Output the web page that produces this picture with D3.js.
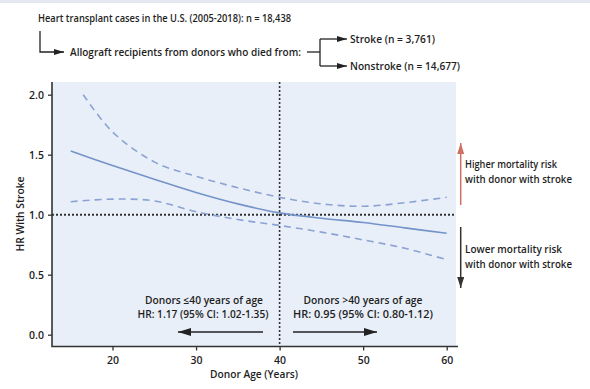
<!DOCTYPE html>
<html>
<head>
<meta charset="utf-8">
<script src="https://cdn.jsdelivr.net/npm/d3@7"></script>
<style>
  body { margin: 0; background: #fff; }
  svg { display: block; font-family: "Open Sans", "Noto Sans", sans-serif; }
  .lbl { font-size: 10.5px; font-weight: 600; fill: #1e1e1e; }
</style>
</head>
<body>
<svg id="chart" width="590" height="389"></svg>
<script>
// data
const ages = [15, 20, 25, 30, 35, 40, 45, 50, 55, 60];
const hr = [1.53, 1.41, 1.295, 1.185, 1.09, 1.015, 0.97, 0.935, 0.89, 0.845];
const upperAges = [16.5, 20, 25, 30, 35, 40, 45, 50, 55, 60];
const upperCI = [2.0, 1.69, 1.44, 1.32, 1.225, 1.145, 1.09, 1.07, 1.10, 1.145];
const lowerCI = [1.108, 1.13, 1.115, 1.025, 0.96, 0.91, 0.855, 0.79, 0.72, 0.625];
const xTicks = [20, 30, 40, 50, 60];
const yTicks = [0, 0.5, 1.0, 1.5, 2.0];

const svg = d3.select("#chart");

// plot area
const pLeft = 52, pRight = 456, pTop = 82, pBottom = 346.5;
const x = d3.scaleLinear().domain([20, 60]).range([112.5, 446.7]);
const y = d3.scaleLinear().domain([0, 2]).range([334.7, 94.7]);

// faint frame at top
svg.append("rect").attr("x", 0).attr("y", 0).attr("width", 590).attr("height", 3)
    .attr("fill", "#e4e9f1");

// arrow markers
const defs = svg.append("defs");
function marker(id, color, w, h) {
    defs.append("marker")
        .attr("id", id)
        .attr("viewBox", `0 0 ${w} ${h}`)
        .attr("refX", w).attr("refY", h / 2)
        .attr("markerWidth", w).attr("markerHeight", h)
        .attr("markerUnits", "userSpaceOnUse")
        .attr("orient", "auto")
        .append("path")
        .attr("d", `M0,0L${w},${h / 2}L0,${h}Z`)
        .attr("fill", color);
}
marker("ah", "#222", 10, 6);
marker("ahRed", "#d0705f", 11, 7);
marker("ahDark", "#333", 11, 7);
marker("ahBig", "#222", 13, 8);

svg.append("rect")
    .attr("x", pLeft).attr("y", pTop)
    .attr("width", pRight - pLeft).attr("height", pBottom - pTop)
    .attr("fill", "#e9eff9");

// reference lines
svg.append("line")
    .attr("x1", pLeft).attr("x2", pRight)
    .attr("y1", y(1)).attr("y2", y(1))
    .attr("stroke", "#333").attr("stroke-width", 2)
    .attr("stroke-dasharray", "2,2");
svg.append("line")
    .attr("x1", x(40)).attr("x2", x(40))
    .attr("y1", pTop).attr("y2", pBottom)
    .attr("stroke", "#333").attr("stroke-width", 1.6)
    .attr("stroke-dasharray", "2,2");

// curves
const line = d3.line().x(d => x(d[0])).y(d => y(d[1])).curve(d3.curveCatmullRom.alpha(0.5));
svg.append("path")
    .attr("d", line(d3.zip(upperAges, upperCI)))
    .attr("fill", "none").attr("stroke", "#8aa3d3").attr("stroke-width", 1.6)
    .attr("stroke-dasharray", "7,5");
svg.append("path")
    .attr("d", line(d3.zip(ages, lowerCI)))
    .attr("fill", "none").attr("stroke", "#8aa3d3").attr("stroke-width", 1.6)
    .attr("stroke-dasharray", "7,5");
svg.append("path")
    .attr("d", line(d3.zip(ages, hr)))
    .attr("fill", "none").attr("stroke", "#7393c9").attr("stroke-width", 1.6);

// axes
const yAxis = svg.append("g")
    .attr("transform", `translate(${pLeft},0)`)
    .call(d3.axisLeft(y).tickValues(yTicks).tickFormat(d3.format(".1f")).tickSize(4).tickPadding(4));
const xAxis = svg.append("g")
    .attr("transform", `translate(0,${pBottom})`)
    .call(d3.axisBottom(x).tickValues(xTicks).tickSize(4).tickPadding(6));
[yAxis, xAxis].forEach(a => {
    a.select(".domain").remove();
    a.selectAll(".tick line").attr("stroke", "#333").attr("stroke-width", 1.3);
    a.selectAll(".tick text")
        .attr("fill", "#1e1e1e")
        .style("font-size", "10.5px")
        .style("font-weight", "600")
        .style("font-family", "'Open Sans', sans-serif");
});
svg.append("path")
    .attr("d", `M${pLeft},${pTop}V${pBottom}H${pRight + 2}`)
    .attr("fill", "none").attr("stroke", "#333").attr("stroke-width", 1.6);

// axis titles
svg.append("text").attr("class", "lbl")
    .attr("x", 254).attr("y", 378).attr("text-anchor", "middle")
    .attr("textLength", 88).attr("lengthAdjust", "spacingAndGlyphs")
    .text("Donor Age (Years)");
svg.append("text").attr("class", "lbl")
    .attr("transform", "translate(24,214) rotate(-90)")
    .attr("text-anchor", "middle")
    .attr("textLength", 75).attr("lengthAdjust", "spacingAndGlyphs")
    .text("HR With Stroke");

function label(tx, ty, str, len, anchor) {
    return svg.append("text").attr("class", "lbl")
        .attr("x", tx).attr("y", ty)
        .attr("text-anchor", anchor || "start")
        .attr("textLength", len).attr("lengthAdjust", "spacingAndGlyphs")
        .text(str);
}

// header flow
label(38, 22, "Heart transplant cases in the U.S. (2005-2018): n = 18,438", 253);
svg.append("path")
    .attr("d", "M40,31V52H64")
    .attr("fill", "none").attr("stroke", "#222").attr("stroke-width", 1.3)
    .attr("marker-end", "url(#ah)");
label(70, 56, "Allograft recipients from donors who died from:", 231);
svg.append("path")
    .attr("d", "M307,52H320")
    .attr("fill", "none").attr("stroke", "#222").attr("stroke-width", 1.3);
svg.append("path")
    .attr("d", "M320,39V66")
    .attr("fill", "none").attr("stroke", "#222").attr("stroke-width", 1.3);
svg.append("path")
    .attr("d", "M320,39H347")
    .attr("fill", "none").attr("stroke", "#222").attr("stroke-width", 1.3)
    .attr("marker-end", "url(#ah)");
svg.append("path")
    .attr("d", "M320,66H347")
    .attr("fill", "none").attr("stroke", "#222").attr("stroke-width", 1.3)
    .attr("marker-end", "url(#ah)");
label(350, 43, "Stroke (n = 3,761)", 85);
label(350, 70, "Nonstroke (n = 14,677)", 110);

// right side risk arrows
svg.append("line")
    .attr("x1", 460.7).attr("x2", 460.7).attr("y1", 205).attr("y2", 143)
    .attr("stroke", "#d0705f").attr("stroke-width", 1.5)
    .attr("marker-end", "url(#ahRed)");
label(465, 168, "Higher mortality risk", 92);
label(465, 183, "with donor with stroke", 107);
svg.append("line")
    .attr("x1", 460.7).attr("x2", 460.7).attr("y1", 227).attr("y2", 288)
    .attr("stroke", "#333").attr("stroke-width", 1.5)
    .attr("marker-end", "url(#ahDark)");
label(465, 253, "Lower mortality risk", 97);
label(465, 268, "with donor with stroke", 107);

// age group annotations
label(204, 304, "Donors \u226440 years of age", 118, "middle");
label(203, 318, "HR: 1.17 (95% CI: 1.02-1.35)", 131, "middle");
label(363, 304, "Donors >40 years of age", 119, "middle");
label(363, 318, "HR: 0.95 (95% CI: 0.80-1.12)", 140, "middle");
svg.append("line")
    .attr("x1", 263).attr("x2", 178).attr("y1", 332).attr("y2", 332)
    .attr("stroke", "#222").attr("stroke-width", 1.5)
    .attr("marker-end", "url(#ahBig)");
svg.append("line")
    .attr("x1", 293).attr("x2", 377).attr("y1", 332).attr("y2", 332)
    .attr("stroke", "#222").attr("stroke-width", 1.5)
    .attr("marker-end", "url(#ahBig)");
</script>
</body>
</html>
